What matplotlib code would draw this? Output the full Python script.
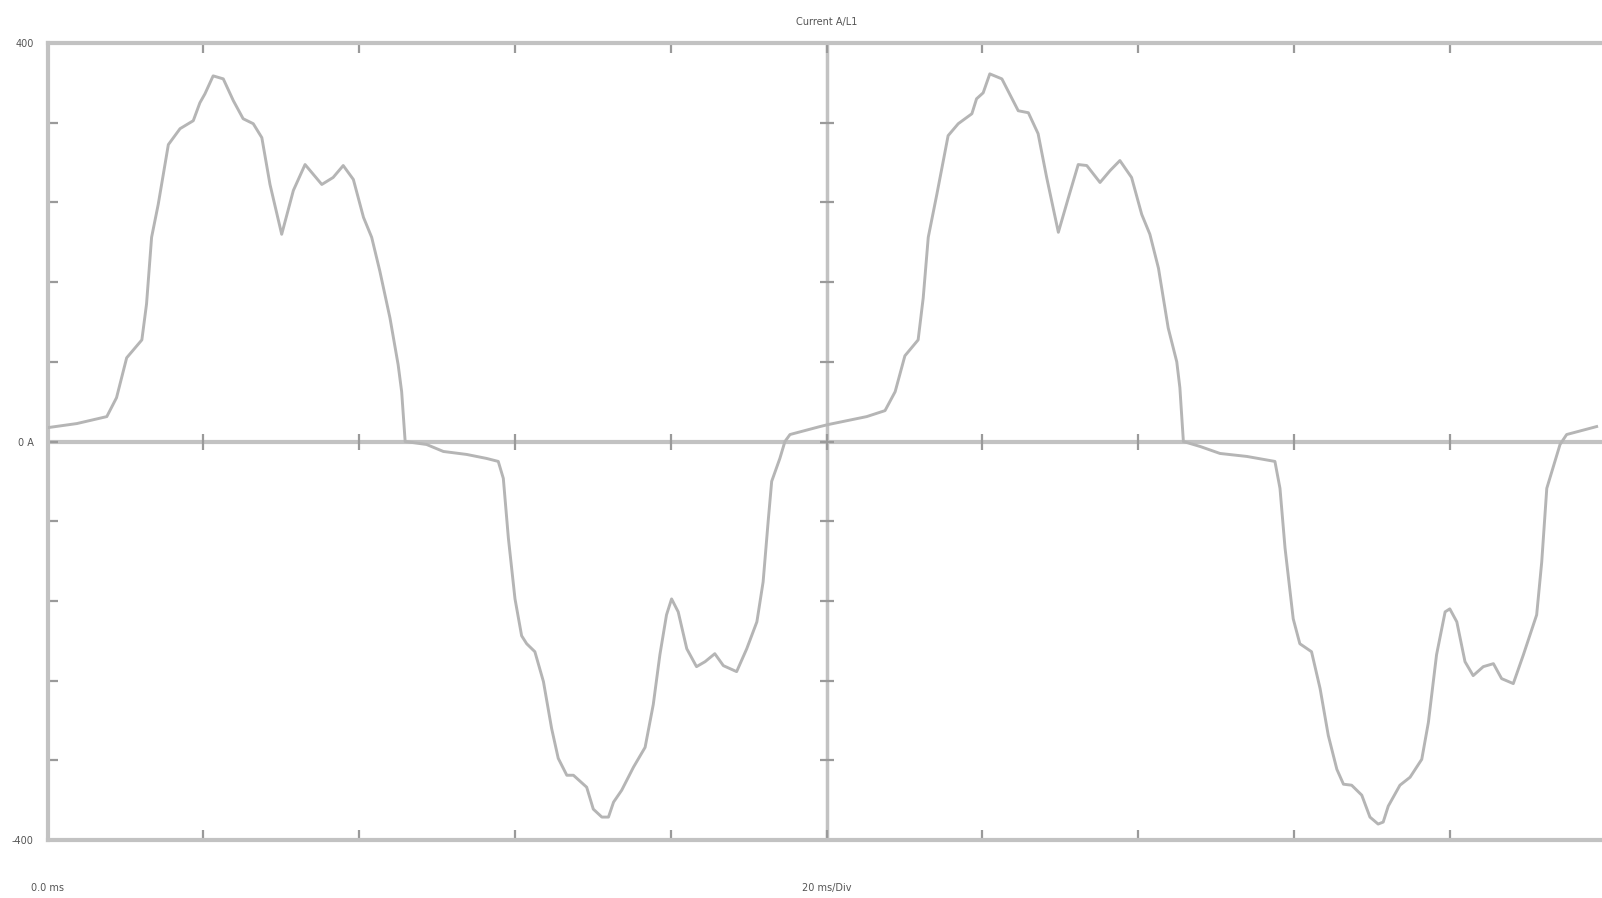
import matplotlib
matplotlib.use("Agg")
import matplotlib.pyplot as plt

# ---- data (time in ms, current in A) ----
time_ms = [
    0.02, 0.75, 1.52, 1.77, 2.03, 2.42, 2.54, 2.67, 2.84, 3.10, 3.40, 3.74, 3.91, 4.04,
    4.25, 4.51, 4.77, 5.02, 5.28, 5.50, 5.71, 6.01, 6.31, 6.61, 7.04, 7.33, 7.59, 7.85,
    8.11, 8.32, 8.53, 8.79, 9.00, 9.09, 9.18,
    9.73, 10.16, 10.76, 11.27, 11.57, 11.70, 11.83, 12.00, 12.17, 12.30, 12.51, 12.73,
    12.94, 13.11, 13.33, 13.50, 13.84, 14.01, 14.23, 14.40, 14.53, 14.74, 15.04, 15.34,
    15.55, 15.72, 15.89, 16.02, 16.19, 16.41, 16.66, 16.88, 17.13, 17.35, 17.69, 17.95,
    18.21, 18.37, 18.50, 18.59, 18.80, 18.93, 19.06, 19.83,
    20.04, 21.03, 21.50, 21.76, 22.01, 22.35, 22.48, 22.61, 22.83, 23.12, 23.38, 23.73,
    23.85, 24.02, 24.19, 24.50, 24.92, 25.18, 25.43, 25.65, 25.95, 26.21, 26.46, 26.68,
    27.02, 27.28, 27.53, 27.83, 28.09, 28.30, 28.52, 28.77, 28.99, 29.07, 29.16,
    29.59, 30.10, 30.79, 31.51, 31.64, 31.77, 31.98, 32.15, 32.45, 32.67, 32.88, 33.10,
    33.27, 33.48, 33.74, 33.95, 34.16, 34.29, 34.42, 34.72, 34.98, 35.28, 35.45, 35.66,
    35.88, 36.00, 36.18, 36.39, 36.60, 36.86, 37.12, 37.33, 37.63, 37.89, 38.23, 38.36,
    38.49, 38.83, 39.00, 39.77,
]
current_a = [
    14, 18, 25, 44, 84, 102, 138, 205, 238, 298, 314, 322, 340, 349,
    367, 364, 342, 324, 319, 305, 258, 208, 252, 278, 258, 265, 277, 263,
    225, 205, 171, 124, 77, 50, 0,
    -3, -10, -13, -17, -20, -37, -97, -158, -195, -203, -211, -241,
    -288, -318, -335, -335, -347, -369, -377, -377, -362, -350, -327, -307,
    -264, -214, -174, -158, -171, -208, -226, -221, -213, -225, -231, -208,
    -181, -141, -80, -40, -17, 0, 7, 15,
    17, 25, 31, 50, 86, 102, 144, 205, 248, 307, 319, 329,
    344, 350, 369, 364, 332, 330, 309, 265, 210, 245, 278, 277,
    260, 272, 282, 265, 228, 208, 174, 114, 80, 54, 0,
    -5, -12, -15, -20, -47, -107, -178, -203, -211, -248, -295, -329,
    -344, -345, -355, -377, -384, -382, -366, -345, -337, -319, -282, -214,
    -171, -168, -181, -221, -235, -226, -223, -238, -243, -214, -174, -121,
    -47, -3, 7, 15,
]

x_ticks = [0, 4, 8, 12, 16, 20, 24, 28, 32, 36, 40]
x_tick_labels = ["0.0 ms", "", "", "", "", "20 ms/Div", "", "", "", "", ""]
y_ticks = [-400, -320, -240, -160, -80, 0, 80, 160, 240, 320, 400]
y_tick_labels = ["-400", "", "", "", "", "0 A", "", "", "", "", "400"]
title = "Current A/L1"

# ---- style ----
W, H = 1602, 898
frame_col = "#c2c2c2"
tick_col = "#9a9a9a"
wave_col = "#b5b5b5"
text_col = "#555555"

fig = plt.figure(figsize=(W / 100, H / 100), dpi=100)
left_px, top_px, bottom_px = 47.6, 43, 840
width_px = 155.8 * 10
ax = fig.add_axes([left_px / W, (H - bottom_px) / H, width_px / W, (bottom_px - top_px) / H])
ax.set_xlim(0, 40)
ax.set_ylim(-400, 400)

for s in ax.spines.values():
    s.set_color(frame_col)
    s.set_linewidth(3)

# zero line and centre line
ax.axhline(0, color=frame_col, lw=3, zorder=1)
ax.axvline(20, color=frame_col, lw=2.5, zorder=1)

# division marks on zero line and centre line
ax.plot(x_ticks, [0] * len(x_ticks), ls="", marker="|", ms=11, mew=1.6, color=tick_col, zorder=2)
ax.plot([20] * len(y_ticks), y_ticks, ls="", marker="_", ms=10, mew=1.6, color=tick_col, zorder=2)

ax.plot(time_ms, current_a, color=wave_col, lw=2.1, zorder=3, solid_joinstyle="round")

ax.set_xticks(x_ticks)
ax.set_xticklabels(x_tick_labels)
ax.set_yticks(y_ticks)
ax.set_yticklabels(y_tick_labels)
ax.tick_params(axis="x", which="both", direction="in", top=True, bottom=True,
               length=7, width=1.6, color=tick_col, labelsize=7, labelcolor=text_col, pad=31)
ax.tick_params(axis="y", which="both", direction="in", left=True, right=False,
               length=7, width=1.6, color=tick_col, labelsize=7, labelcolor=text_col, pad=10)

ax.set_title(title, fontsize=7, color=text_col, pad=13)

fig.savefig("out.png", dpi=100, facecolor="white")
